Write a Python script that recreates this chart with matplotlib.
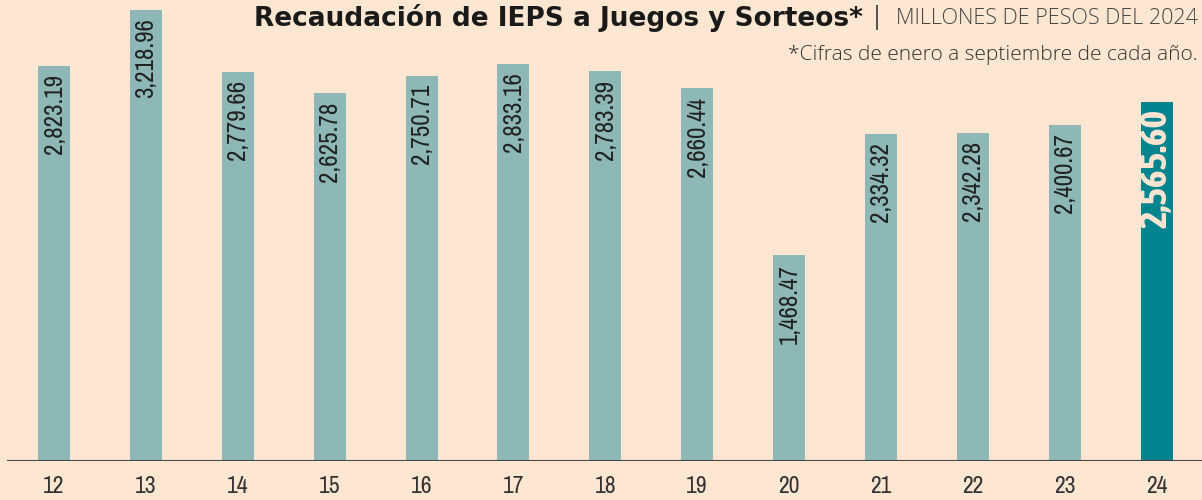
import matplotlib
matplotlib.use("Agg")
import matplotlib.pyplot as plt
from matplotlib import font_manager as fm

years = ["12", "13", "14", "15", "16", "17", "18", "19", "20", "21", "22", "23", "24"]
values = [2823.19, 3218.96, 2779.66, 2625.78, 2750.71, 2833.16, 2783.39,
          2660.44, 1468.47, 2334.32, 2342.28, 2400.67, 2565.60]

BG = "#fde6d2"
BAR = "#8db8b6"
HL = "#03858f"
NARROW = ["Archivo Narrow", "DejaVu Sans"]


def _w(f):
    w = f.weight
    if isinstance(w, str):
        w = fm.weight_dict.get(w, 400)
    return w


bold_files = sorted(
    [f for f in fm.fontManager.ttflist
     if f.name in ("Archivo Narrow", "Asap Condensed") and _w(f) >= 700 and f.style == "normal"],
    key=lambda f: (f.name != "Archivo Narrow", _w(f)))
if bold_files:
    bold_prop = fm.FontProperties(fname=bold_files[0].fname, size=27)
else:
    bold_prop = fm.FontProperties(family="DejaVu Sans", stretch="condensed",
                                  weight="bold", size=24)

fig = plt.figure(figsize=(12.02, 5.0), dpi=100, facecolor=BG)
ax = fig.add_axes([0, 39 / 500, 1, 461 / 500])
ax.set_facecolor(BG)

pxx = 91.875
x0 = -54 / pxx
ax.set_xlim(x0, x0 + 1202 / pxx)
pxy = 0.14005
ax.set_ylim(0, 461 / pxy)

xs = list(range(len(years)))
colors = [BAR] * (len(years) - 1) + [HL]
ax.bar(xs, values, width=32 / pxx, color=colors, zorder=2)

for i, v in enumerate(values):
    lab = f"{v:,.2f}"
    last = i == len(values) - 1
    if last:
        ax.annotate(lab, (i, v), xytext=(0, -5), textcoords="offset points",
                    rotation=90, ha="center", va="top", color=BG,
                    fontproperties=bold_prop, zorder=3)
    else:
        ax.annotate(lab, (i, v), xytext=(0, -6), textcoords="offset points",
                    rotation=90, ha="center", va="top", fontsize=18,
                    fontstretch="condensed", color="#222222",
                    family=NARROW, zorder=3)

ax.axhline(0, xmin=8 / 1202, xmax=1, color="#444444", lw=1.5, zorder=4)

ax.set_xticks(xs)
ax.set_xticklabels(years, family=NARROW, fontstretch="condensed",
                   fontsize=17, color="#333333")
ax.tick_params(axis="x", length=0, pad=11)
ax.set_yticks([])
for s in ax.spines.values():
    s.set_visible(False)

fig.text(863 / 1202, 1 - 18 / 500, "Recaudación de IEPS a Juegos y Sorteos*",
         ha="right", va="center", fontsize=19, fontweight="heavy",
         color="#1a1a1a", family=["DejaVu Sans"])
fig.text(873 / 1202, 1 - 18 / 500, "|", ha="left", va="center", fontsize=17,
         color="#555555", family=["DejaVu Sans"])
fig.text(1198 / 1202, 1 - 19 / 500, "MILLONES DE PESOS DEL 2024",
         ha="right", va="center", fontsize=15.5, color="#444444",
         family=["Open Sans", "DejaVu Sans"], fontweight="light")
fig.text(1198 / 1202, 1 - 55 / 500, "*Cifras de enero a septiembre de cada año.",
         ha="right", va="center", fontsize=15, color="#333333",
         family=["Open Sans", "DejaVu Sans"], fontweight="light")

fig.savefig("out.png", dpi=100, facecolor=BG)
